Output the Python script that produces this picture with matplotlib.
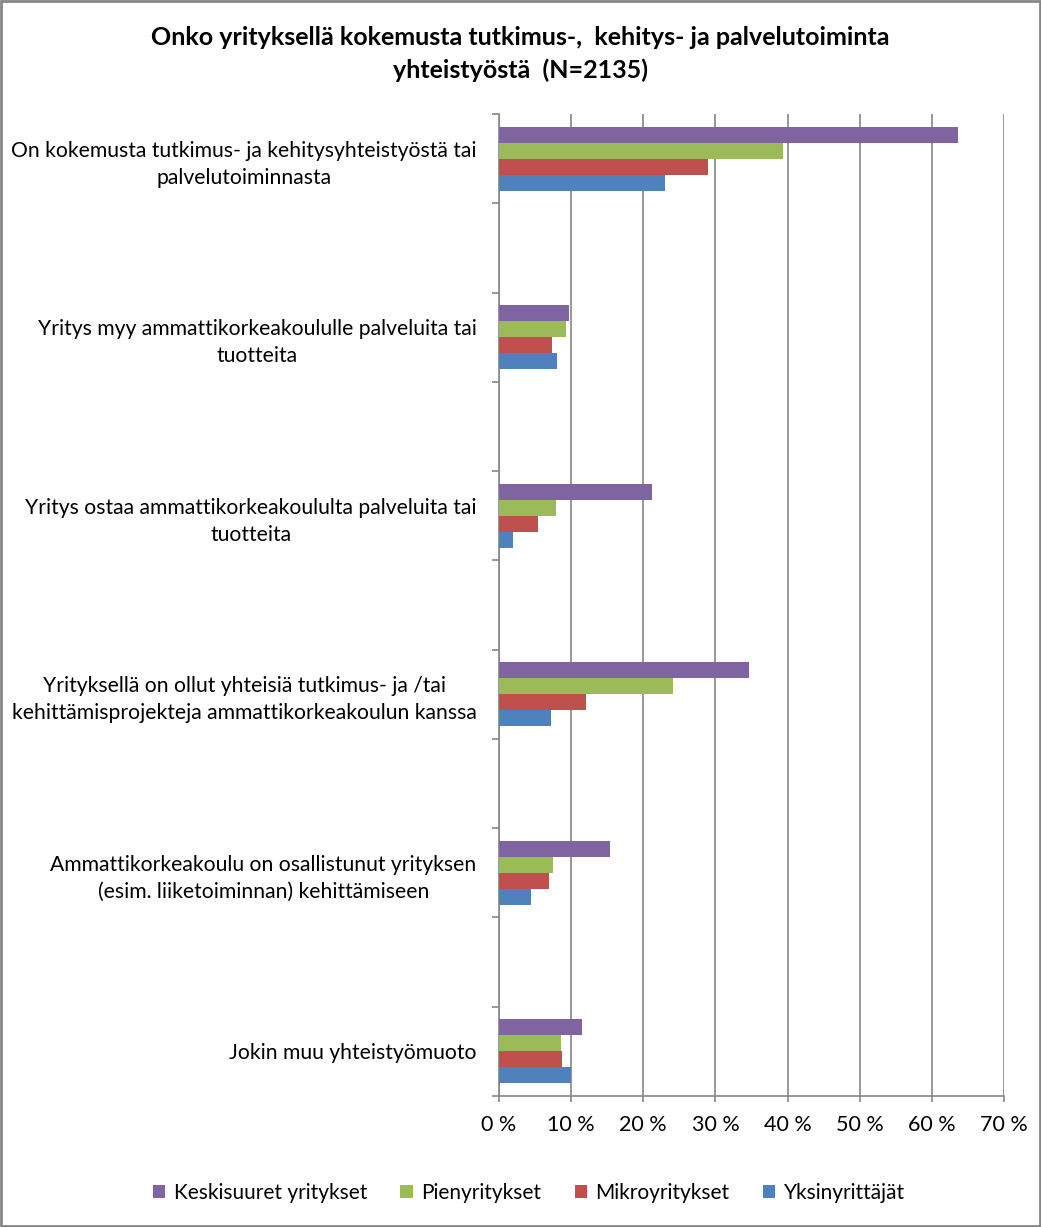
import numpy as np
import matplotlib.pyplot as plt
from matplotlib.patches import Rectangle

# Kategoriat (ylhäältä alas)
kategoriat = [
    "On kokemusta tutkimus- ja kehitysyhteistyöstä tai\npalvelutoiminnasta",
    "Yritys myy ammattikorkeakoululle palveluita tai\ntuotteita",
    "Yritys ostaa ammattikorkeakoululta palveluita tai\ntuotteita",
    "Yrityksellä on ollut yhteisiä tutkimus- ja /tai\nkehittämisprojekteja ammattikorkeakoulun kanssa",
    "Ammattikorkeakoulu on osallistunut yrityksen\n(esim. liiketoiminnan) kehittämiseen",
    "Jokin muu yhteistyömuoto",
]

# Osuudet prosentteina
keskisuuret = [63.6, 9.7, 21.2, 34.7, 15.4, 11.5]
pienyritykset = [39.4, 9.3, 7.9, 24.1, 7.5, 8.6]
mikroyritykset = [29.0, 7.4, 5.4, 12.0, 6.9, 8.8]
yksinyrittajat = [23.0, 8.0, 1.9, 7.2, 4.5, 10.0]

sarjat = ["Keskisuuret yritykset", "Pienyritykset", "Mikroyritykset", "Yksinyrittäjät"]
arvot = [keskisuuret, pienyritykset, mikroyritykset, yksinyrittajat]
varit = ["#8064A2", "#9BBB59", "#C0504D", "#4F81BD"]

x_ticks = [0, 10, 20, 30, 40, 50, 60, 70]
x_tick_labels = ["0 %", "10 %", "20 %", "30 %", "40 %", "50 %", "60 %", "70 %"]

plt.rcParams['font.family'] = ['Lato', 'DejaVu Sans']
harmaa = "#868686"

fig = plt.figure(figsize=(10.41, 12.27), dpi=100)
ax = fig.add_axes([0.4793, 0.1068, 0.4852, 0.8003])

# kategoriat joka toisella rivillä, tyhjät rivit välissä
paikat = np.arange(len(kategoriat)) * 2
h = 0.179
siirrot = [-1.5 * h, -0.5 * h, 0.5 * h, 1.5 * h]
for nimi, v, c, s in zip(sarjat, arvot, varit, siirrot):
    ax.barh(paikat + s, v, height=h, color=c, label=nimi, zorder=3)

ax.set_xlim(0, 70)
ax.set_ylim(10.5, -0.5)
ax.set_xticks(x_ticks)
ax.set_xticklabels(x_tick_labels, fontsize=15.5)
ax.set_yticks(np.arange(-0.5, 11, 1))
ax.set_yticklabels([])
ax.set_yticks(paikat, minor=True)
ax.set_yticklabels(kategoriat, minor=True, fontsize=15.2, multialignment='center', linespacing=1.45)
ax.tick_params(axis='y', which='minor', length=0, pad=16)
ax.tick_params(axis='y', which='major', length=5, color=harmaa, width=1.2)
ax.tick_params(axis='x', length=4, color=harmaa, width=1.2, pad=10)

ax.grid(axis='x', color=harmaa, linewidth=1.2, zorder=0)
for sp in ['top', 'right']:
    ax.spines[sp].set_visible(False)
for sp in ['left', 'bottom']:
    ax.spines[sp].set_color(harmaa)
    ax.spines[sp].set_linewidth(1.2)

fig.text(0.5, 0.956, "Onko yrityksellä kokemusta tutkimus-,  kehitys- ja palvelutoiminta\nyhteistyöstä  (N=2135)",
         ha='center', va='center', fontsize=18, fontweight='bold', linespacing=1.5)

fig.legend(loc='center', bbox_to_anchor=(0.508, 0.028), ncol=4, frameon=False, fontsize=15,
           handlelength=0.6, handleheight=0.6, handletextpad=0.4, columnspacing=1.6)

fig.patches.append(Rectangle((0.001, 0.001), 0.998, 0.998, transform=fig.transFigure,
                             fill=False, edgecolor=harmaa, linewidth=2))

plt.savefig("out.png", dpi=100)
